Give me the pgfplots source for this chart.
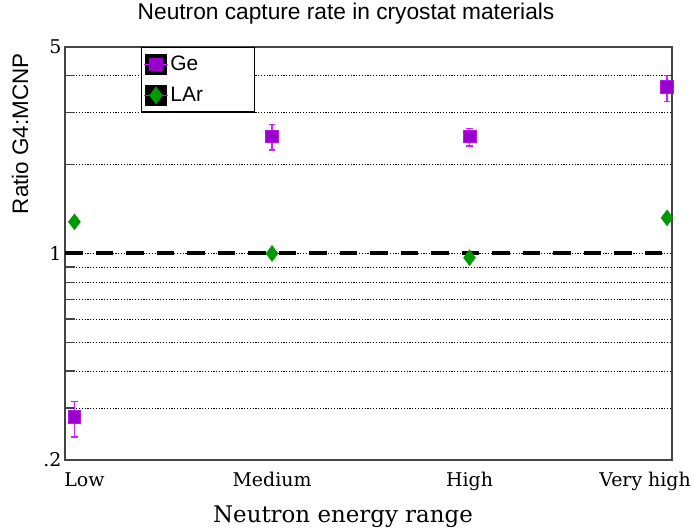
\documentclass[border=0pt]{standalone}
\usepackage{fontspec}
\setmainfont{DejaVu Serif}
\newfontfamily\sansf{Liberation Sans}
\usepackage{pgfplots}
\pgfplotsset{compat=1.18}
\definecolor{gepurp}{HTML}{9900CC}
\definecolor{gemag}{HTML}{CC22FF}
\definecolor{largreen}{HTML}{009900}
\definecolor{axgray}{HTML}{444444}
\begin{document}
\begin{tikzpicture}
\begin{axis}[
  name=ax,
  scale only axis,
  width=607bp, height=413bp,
  xmin=-0.048, xmax=3.025,
  ymode=log, ymin=0.2, ymax=5,
  xtick={0,1,2,3},
  xticklabels={\hspace*{20bp}Low, Medium, High, Very high\hspace*{44bp}},
  x tick style={draw=none},
  x tick label style={yshift=-9bp},
  ytick={0.2,1,5},
  yticklabels={.2,1,5},
  minor ytick={0.3,0.4,0.5,0.6,0.7,0.8,0.9,2,3,4},
  ytick pos=left,
  tick align=inside,
  major tick length=10bp, minor tick length=10bp,
  y tick style={axgray, line width=1.2bp},
  ymajorgrids, yminorgrids,
  major grid style={black, line width=0.8bp, dash pattern=on 1.2bp off 1.6bp},
  minor grid style={black, line width=0.8bp, dash pattern=on 1.2bp off 1.6bp},
  axis line style={axgray, line width=1.5bp},
  tick label style={font=\fontsize{19}{22}\selectfont},
  /pgf/number format/assume math mode=true,
  title={Neutron capture rate in cryostat materials},
  every axis title shift=0pt,
  title style={font=\sansf\fontsize{22.8}{27}\selectfont, at={(rel axis cs:0.463,1.082)}, anchor=center},
  xlabel={Neutron energy range},
  xlabel style={font=\fontsize{23}{27}\selectfont, at={(rel axis cs:0.458,-0.138)}, anchor=center},
  ylabel={Ratio G4:MCNP},
  ylabel style={font=\sansf\fontsize{22.5}{27}\selectfont, at={(rel axis cs:-0.074,0.79)}, anchor=center},
  legend style={at={(rel axis cs:0.125,1)}, anchor=north west, draw=black, line width=1.2bp,
    font=\sansf\fontsize{21}{25}\selectfont, fill=white,
    inner xsep=2bp, inner ysep=6bp, row sep=10bp,
    /tikz/every odd column/.append style={column sep=0bp}},
  legend cell align=left,
  clip=false,
]
\addplot[black, line width=4bp, dash pattern=on 17.5bp off 13bp, forget plot] coordinates {(-0.048,1) (3.025,1)};
\addplot[only marks, forget plot, mark=square*, mark size=6.3bp, mark options={fill=gepurp, draw=gemag!60!gepurp, line width=0.6bp},
  error bars/.cd, y dir=both, y explicit,
  error bar style={gemag, line width=1.3bp},
  error mark options={rotate=90, gemag, mark size=3.2bp, line width=1.3bp}]
  coordinates {
  (0,0.28) += (0,0.035) -= (0,0.041)
  (1,2.49) += (0,0.25) -= (0,0.25)
  (2,2.49) += (0,0.16) -= (0,0.18)
  (3,3.67) += (0,0.34) -= (0,0.40)
  };
\addplot[only marks, forget plot, mark=diamond*, mark size=8bp, mark options={fill=largreen, draw=largreen},
  error bars/.cd, y dir=both, y explicit,
  error bar style={largreen, line width=1bp},
  error mark options={rotate=90, largreen, mark size=2bp}]
  coordinates {
  (0,1.28) +- (0,0.02)
  (1,1.00) +- (0,0.015)
  (2,0.968) +- (0,0.015)
  (3,1.32) +- (0,0.02)
  };
\addlegendimage{legend image code/.code={
    \fill[black] (0bp,-10bp) rectangle (20bp,10bp);
    \draw[gemag, line width=1bp] (-2bp,0bp)--(22bp,0bp);
    \fill[gepurp] (4bp,-6bp) rectangle (16bp,6bp);}}
\addlegendentry{Ge\hspace*{52bp}}
\addlegendimage{legend image code/.code={
    \fill[black] (0bp,-10bp) rectangle (20bp,10bp);
    \draw[largreen, line width=1bp] (-2bp,0bp)--(22bp,0bp);
    \fill[largreen] (10bp,8bp)--(16bp,0bp)--(10bp,-8bp)--(4bp,0bp)--cycle;}}
\addlegendentry{LAr}
\end{axis}
\pgfresetboundingbox
\path[use as bounding box] ([shift={(-65bp,-71bp)}]ax.south west) rectangle ([shift={(22bp,47bp)}]ax.north east);
\end{tikzpicture}
\end{document}
